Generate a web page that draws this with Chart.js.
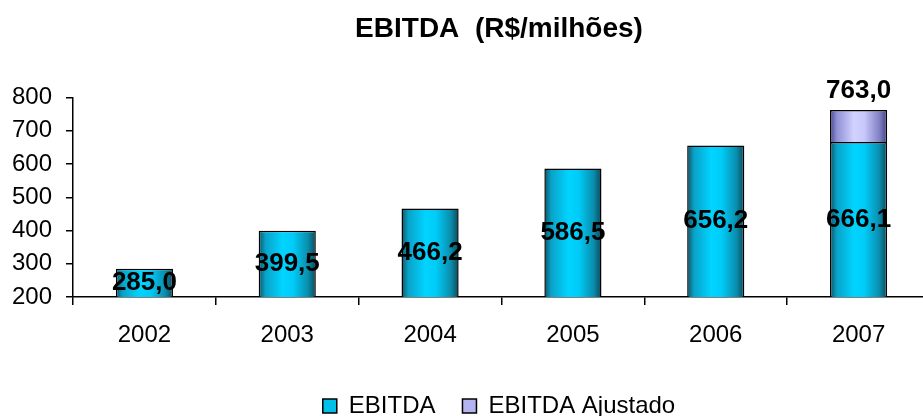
<!DOCTYPE html>
<html>
<head>
<meta charset="utf-8">
<script src="https://cdn.jsdelivr.net/npm/chart.js@4.4.1/dist/chart.umd.min.js"></script>
<style>
  html, body { margin: 0; padding: 0; overflow: hidden; background: #fff; }
</style>
</head>
<body>
<canvas id="ebitdaChart" width="998" height="428"></canvas>
<script>
const years = ['2002', '2003', '2004', '2005', '2006', '2007'];
const ebitda = [285.0, 399.5, 466.2, 586.5, 656.2, 666.1];
const ebitdaAjustado = [null, null, null, null, null, 96.9];
const yTicks = [200, 300, 400, 500, 600, 700, 800];

const FONT = 'Arial, "Liberation Sans", sans-serif';
Chart.defaults.font.family = FONT;
Chart.defaults.color = '#000';

// cores com brilho no meio da barra
const cyanStops = ['#0a5568', '#0aa2c8', '#00d4ff', '#00ccf8', '#0a8eae', '#0a4a5a'];
const lilacStops = ['#48488e', '#9090d6', '#d2d2ff', '#c8c8fa', '#8282c6', '#404080'];
const stopPos = [0, 0.12, 0.42, 0.6, 0.86, 1];
const legendColors = ['#00bfe8', '#b4b4f0'];

function barFill(stops) {
    return (ctx) => {
        const x = ctx.chart.scales.x;
        if (ctx.type !== 'data' || !x) return stops[2];
        const cx = x.getPixelForValue(ctx.dataIndex);
        const half = x.width / years.length * 0.4 / 2;
        if (!isFinite(cx) || !isFinite(half) || half <= 0) return stops[2];
        const g = ctx.chart.ctx.createLinearGradient(cx - half, 0, cx + half, 0);
        stops.forEach((c, i) => g.addColorStop(stopPos[i], c));
        return g;
    };
}

const fmt = v => v.toFixed(1).replace('.', ',');

const valueLabels = {
    id: 'valueLabels',
    afterDatasetsDraw(chart) {
        const { ctx, chartArea } = chart;
        const baseMeta = chart.getDatasetMeta(0);
        const topMeta = chart.getDatasetMeta(1);
        ctx.save();
        ctx.font = 'bold 26px ' + FONT;
        ctx.fillStyle = '#000';
        ctx.textAlign = 'center';
        ctx.textBaseline = 'middle';
        baseMeta.data.forEach((bar, i) => {
            ctx.fillText(fmt(ebitda[i]), bar.x, (bar.y + chartArea.bottom) / 2);
        });
        topMeta.data.forEach((bar, i) => {
            if (ebitdaAjustado[i] == null) return;
            ctx.fillText(fmt(ebitda[i] + ebitdaAjustado[i]), bar.x, bar.y - 19);
        });
        ctx.restore();
    }
};

const chart = new Chart(document.getElementById('ebitdaChart'), {
    type: 'bar',
    data: {
        labels: years,
        datasets: [
            {
                label: 'EBITDA',
                data: ebitda,
                backgroundColor: barFill(cyanStops),
                borderColor: '#000',
                borderWidth: 1.5,
                categoryPercentage: 0.8,
                barPercentage: 0.5
            },
            {
                label: 'EBITDA Ajustado',
                data: ebitdaAjustado,
                backgroundColor: barFill(lilacStops),
                borderColor: '#000',
                borderWidth: 1.5,
                categoryPercentage: 0.8,
                barPercentage: 0.5
            }
        ]
    },
    options: {
        responsive: false,
        animation: false,
        layout: { padding: 0 },
        plugins: {
            title: {
                display: true,
                text: 'EBITDA  (R$/milhões)',
                font: { size: 28, weight: 'bold' },
                color: '#000',
                padding: { top: 12, bottom: 52 }
            },
            legend: {
                position: 'bottom',
                labels: {
                    boxWidth: 14,
                    boxHeight: 14,
                    padding: 27,
                    font: { size: 24 },
                    color: '#000',
                    generateLabels: (chart) => {
                        const items = Chart.defaults.plugins.legend.labels.generateLabels(chart);
                        items.forEach((it, i) => { it.fillStyle = legendColors[i]; });
                        return items;
                    }
                }
            },
            tooltip: { enabled: false }
        },
        scales: {
            x: {
                stacked: true,
                grid: { drawOnChartArea: false, color: '#000', tickLength: 8, lineWidth: 1.5 },
                border: { color: '#000', width: 1.5 },
                ticks: { font: { size: 24 }, padding: 16, color: '#000' },
                afterFit: s => { s.height = 70; }
            },
            y: {
                stacked: true,
                min: yTicks[0],
                max: yTicks[yTicks.length - 1],
                ticks: { stepSize: yTicks[1] - yTicks[0], font: { size: 24 }, padding: 14, color: '#000' },
                grid: { drawOnChartArea: false, color: '#000', tickLength: 7, lineWidth: 1.5 },
                border: { color: '#000', width: 1.5 },
                afterFit: s => { s.width = 73; }
            },
            // eixo vazio à direita só para centralizar título e legenda sobre o gráfico
            y2: {
                position: 'right',
                grid: { display: false },
                border: { display: false },
                ticks: { display: false },
                afterFit: s => { s.width = 68; }
            }
        }
    },
    plugins: [valueLabels]
});
chart.update();
</script>
</body>
</html>
